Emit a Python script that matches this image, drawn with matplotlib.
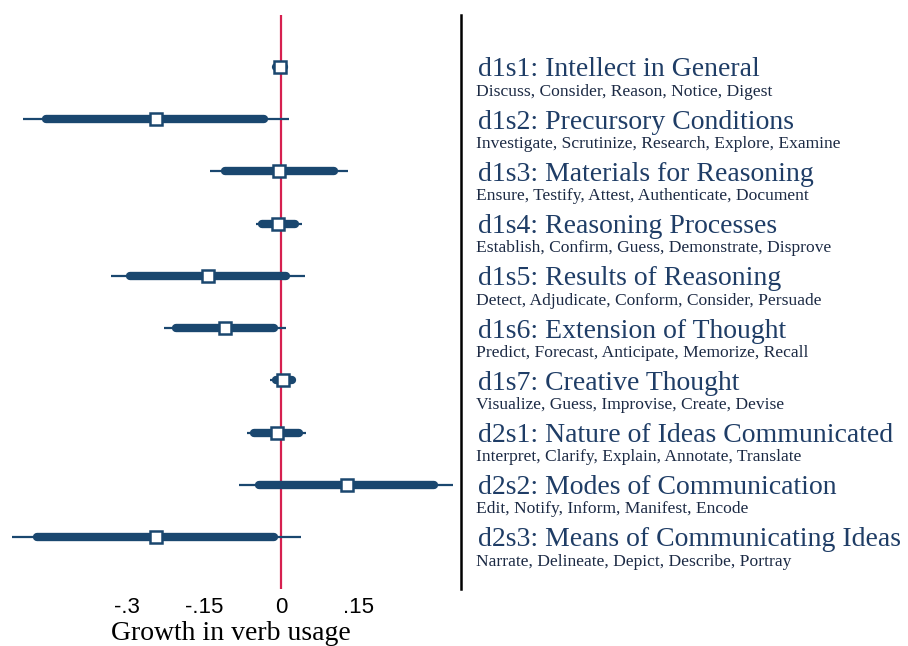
import matplotlib.pyplot as plt
import matplotlib.transforms as mtransforms

# coefficient plot: point estimate, inner (thick) and outer (thin) intervals
titles = ["d1s1: Intellect in General", "d1s2: Precursory Conditions",
          "d1s3: Materials for Reasoning", "d1s4: Reasoning Processes",
          "d1s5: Results of Reasoning", "d1s6: Extension of Thought",
          "d1s7: Creative Thought", "d2s1: Nature of Ideas Communicated",
          "d2s2: Modes of Communication", "d2s3: Means of Communicating Ideas"]
verbs = ["Discuss, Consider, Reason, Notice, Digest",
         "Investigate, Scrutinize, Research, Explore, Examine",
         "Ensure, Testify, Attest, Authenticate, Document",
         "Establish, Confirm, Guess, Demonstrate, Disprove",
         "Detect, Adjudicate, Conform, Consider, Persuade",
         "Predict, Forecast, Anticipate, Memorize, Recall",
         "Visualize, Guess, Improvise, Create, Devise",
         "Interpret, Clarify, Explain, Annotate, Translate",
         "Edit, Notify, Inform, Manifest, Encode",
         "Narrate, Delineate, Depict, Describe, Portray"]
coef = [-0.003, -0.243, -0.004, -0.006, -0.142, -0.109, 0.004, -0.008, 0.128, -0.243]
ci_lo95 = [-0.010, -0.456, -0.109, -0.037, -0.293, -0.204, -0.011, -0.052, -0.043, -0.474]
ci_hi95 = [0.006, -0.033, 0.103, 0.027, 0.010, -0.014, 0.021, 0.035, 0.297, -0.014]
ci_lo99 = [-0.016, -0.501, -0.138, -0.049, -0.330, -0.227, -0.021, -0.066, -0.082, -0.522]
ci_hi99 = [0.011, 0.016, 0.130, 0.041, 0.047, 0.010, 0.029, 0.049, 0.334, 0.039]
xticks = [-0.3, -0.15, 0, 0.15]
xticklabels = ["-.3", "-.15", "0", ".15"]

navy = "#1a476f"
rows = list(range(1, len(titles) + 1))

fig = plt.figure(figsize=(9.08, 6.46), dpi=100)
ax = fig.add_axes([0.0, 0.088, 0.5077, 0.889])

ax.axvline(0, color="#d6204f", lw=1.6, zorder=1)
ax.hlines(rows, ci_lo99, ci_hi99, color=navy, lw=1.6, zorder=2)
ax.hlines(rows, ci_lo95, ci_hi95, color=navy, lw=6, zorder=3, capstyle="round")
ax.plot(coef, rows, ls="none", marker="s", ms=8, mfc="white", mec=navy, mew=1.8, zorder=4)

ax.set_xlim(-0.546, 0.349)
ax.set_ylim(11.0, 0.0)
ax.set_yticks([])
ax.set_xticks(xticks)
ax.set_xticklabels(xticklabels, fontsize=16, fontfamily="Liberation Sans")
ax.tick_params(axis="x", length=0, pad=6)
ax.set_xlabel("Growth in verb usage", fontsize=20, fontfamily="Liberation Serif", labelpad=2)

for s in ["top", "left", "bottom"]:
    ax.spines[s].set_visible(False)
ax.spines["right"].set_linewidth(1.8)
ax.spines["right"].set_color("black")

trans = mtransforms.blended_transform_factory(ax.transAxes, ax.transData)
for r, t, v in zip(rows, titles, verbs):
    ax.text(1.037, r + 0.18, t, transform=trans, fontsize=20, fontfamily="Liberation Serif",
            color="#1f3d66", va="baseline", ha="left", clip_on=False)
    ax.text(1.033, r + 0.55, v, transform=trans, fontsize=12.6, fontfamily="Liberation Serif",
            color="#1c2a44", va="baseline", ha="left", clip_on=False)

fig.savefig("out.png", dpi=100)
